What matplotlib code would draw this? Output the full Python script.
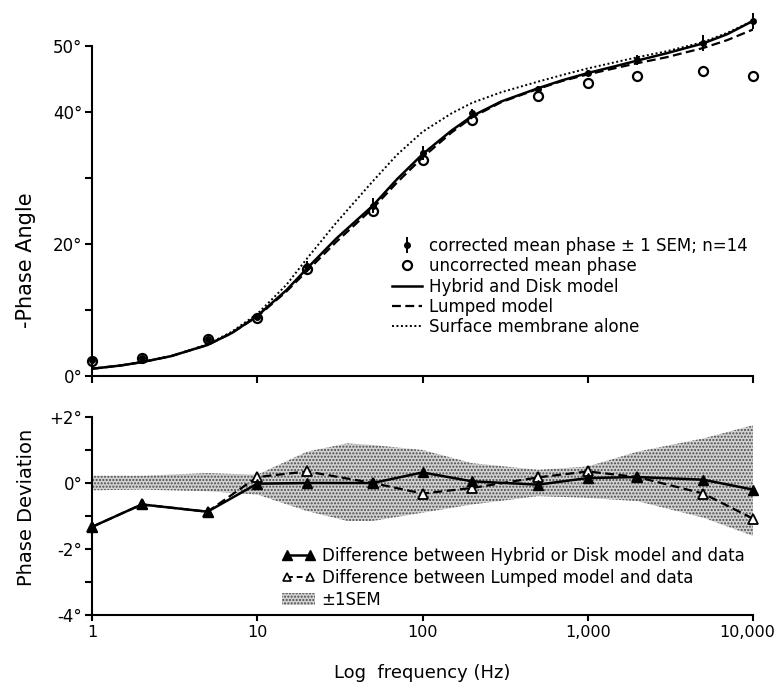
import matplotlib

matplotlib.use("Agg")
import matplotlib.pyplot as plt
from matplotlib.lines import Line2D
from matplotlib.patches import Patch
from matplotlib.ticker import FixedFormatter, FixedLocator, NullLocator
from matplotlib.transforms import ScaledTranslation

plt.rcParams["font.family"] = ["DejaVu Sans"]

# measured points (Hz, degrees)
freq = [1, 2, 5, 10, 20, 50, 100, 200, 500, 1000, 2000, 5000, 10000]
phase_corrected = [2.4, 2.8, 5.6, 9.0, 16.6, 25.8, 33.8, 39.8, 43.5, 45.9, 47.9, 50.4, 53.8]
phase_sem = [0.2, 0.2, 0.3, 0.3, 0.9, 1.1, 1.0, 0.6, 0.4, 0.5, 0.75, 1.2, 1.2]
phase_uncorrected = [2.3, 2.8, 5.6, 8.8, 16.2, 25.0, 32.7, 38.8, 42.4, 44.4, 45.5, 46.2, 45.5]

# model curves
model_freq = [1, 1.5, 2, 3, 5, 7, 10, 15, 20, 30, 50, 70, 100, 150, 200, 300,
              500, 700, 1000, 1500, 2000, 3000, 5000, 7000, 10000]
hybrid = [1.1, 1.6, 2.1, 3.0, 4.7, 6.5, 9.1, 13.0, 16.3, 20.8, 25.8, 29.8, 33.6, 37.2,
          39.4, 41.6, 43.6, 44.8, 45.9, 47.0, 47.8, 48.9, 50.4, 51.8, 53.8]
lumped = [1.1, 1.6, 2.1, 3.0, 4.7, 6.5, 9.0, 12.8, 15.9, 20.3, 25.4, 29.3, 33.1, 36.9,
          39.2, 41.5, 43.5, 44.7, 45.7, 46.7, 47.4, 48.3, 49.7, 50.9, 52.5]
surface = [1.1, 1.6, 2.1, 3.0, 4.8, 6.7, 9.4, 13.8, 17.8, 23.2, 29.5, 33.5, 37.0, 39.8,
           41.4, 43.0, 44.6, 45.6, 46.6, 47.6, 48.3, 49.2, 50.6, 52.0, 53.8]

# deviation panel
dev_hybrid = [-1.33, -0.65, -0.87, -0.02, 0.0, 0.0, 0.32, 0.05, -0.05, 0.15, 0.18, 0.1, -0.2]
dev_lumped = [-1.33, -0.65, -0.87, 0.18, 0.35, 0.0, -0.32, -0.15, 0.17, 0.35, 0.18, -0.32, -1.08]
band_freq = [1, 2, 5, 10, 20, 35, 50, 100, 200, 500, 1000, 2000, 5000, 10000]
band_hi = [0.22, 0.22, 0.3, 0.25, 0.95, 1.2, 1.15, 1.0, 0.6, 0.4, 0.5, 0.95, 1.35, 1.75]
band_lo = [-0.22, -0.2, -0.25, -0.35, -0.85, -1.15, -1.15, -0.9, -0.65, -0.4, -0.45, -0.55, -1.05, -1.6]

xticks = [1, 10, 100, 1000, 10000]
xticklabels = ["1", "10", "100", "1,000", "10,000"]

BAND_FACE = "#d2d2d2"
BAND_DOTS = "#4a4a4a"

fig = plt.figure(figsize=(7.77, 6.88), dpi=100)
ax = fig.add_axes([92 / 777, 1 - 376 / 688, 661 / 777, 363 / 688])
ax2 = fig.add_axes([92 / 777, 1 - 615 / 688, 661 / 777, 198 / 688])

# --- top panel: phase angle
surf_ln, = ax.plot(model_freq, surface, color="black", lw=1.4, ls=(0, (1, 1.3)))
lump_ln, = ax.plot(model_freq, lumped, color="black", lw=1.6, ls=(0, (4, 2)))
hyb_ln, = ax.plot(model_freq, hybrid, color="black", lw=1.8)
unc_ln, = ax.plot(freq, phase_uncorrected, "o", ms=6.5, mfc="none", mec="black", mew=1.6,
                  clip_on=False)
eb = ax.errorbar(freq, phase_corrected, yerr=phase_sem, fmt="o", ms=4, color="black",
                 elinewidth=1.4, capsize=0, clip_on=False)

ax.set_xscale("log")
ax.set_xlim(1, 10000)
ax.set_ylim(0, 55)
for s in ("top", "right"):
    ax.spines[s].set_visible(False)
ax.spines["left"].set_bounds(0, 50)
for s in ("left", "bottom"):
    ax.spines[s].set_linewidth(1.5)
ax.yaxis.set_major_locator(FixedLocator([0, 10, 20, 30, 40, 50]))
ax.yaxis.set_major_formatter(FixedFormatter(["0°", "", "20°", "", "40°", "50°"]))
ax.xaxis.set_major_locator(FixedLocator(xticks))
ax.xaxis.set_minor_locator(NullLocator())
ax.set_xticklabels([])
ax.tick_params(axis="both", direction="out", length=5, width=1.5, labelsize=12, pad=2)
ax.set_ylabel("-Phase Angle", fontsize=15)
ax.yaxis.set_label_coords(-0.085, 0.32)

ax.legend(handles=[eb, unc_ln, hyb_ln, lump_ln, surf_ln],
          labels=["corrected mean phase ± 1 SEM; n=14", "uncorrected mean phase",
                  "Hybrid and Disk model", "Lumped model", "Surface membrane alone"],
          loc="upper left", bbox_to_anchor=(0.454, 0.383),
          frameon=False, fontsize=12, handlelength=1.8, handletextpad=0.4,
          labelspacing=0.14, borderpad=0, borderaxespad=0, numpoints=1)

# --- bottom panel: deviation
ax2.fill_between(band_freq, band_lo, band_hi, facecolor=BAND_FACE, edgecolor=BAND_DOTS,
                 hatch=".....", linewidth=0)
ax2.plot(freq, dev_lumped, color="black", lw=1.6, ls=(0, (4, 2)), marker="^", ms=7,
         mfc="white", mec="black", mew=1.3, clip_on=False)
ax2.plot(freq, dev_hybrid, color="black", lw=1.8, marker="^", ms=7, mfc="black",
         mec="black", clip_on=False)

ax2.set_xscale("log")
ax2.set_xlim(1, 10000)
ax2.set_ylim(-4, 2)
for s in ("top", "right"):
    ax2.spines[s].set_visible(False)
for s in ("left", "bottom"):
    ax2.spines[s].set_linewidth(1.5)
ax2.yaxis.set_major_locator(FixedLocator([-4, -3, -2, -1, 0, 1, 2]))
ax2.yaxis.set_major_formatter(FixedFormatter(["-4°", "", "-2°", "", "0°", "", "+2°"]))
ax2.xaxis.set_major_locator(FixedLocator(xticks))
ax2.xaxis.set_major_formatter(FixedFormatter(xticklabels))
ax2.xaxis.set_minor_locator(NullLocator())
ax2.tick_params(axis="both", direction="out", length=5, width=1.5, labelsize=12, pad=2)
ax2.tick_params(axis="x", labelsize=11.5, length=4.5, pad=2.5)
ax2.set_ylabel("Phase Deviation", fontsize=14)
ax2.yaxis.set_label_coords(-0.085, 0.545)
ax2.set_xlabel("Log  frequency (Hz)", fontsize=13)
ax2.xaxis.set_label_coords(0.5, -0.245)

# nudge the last tick label so "10,000" stays inside the canvas
last = ax2.xaxis.get_major_ticks()[-1].label1
last.set_transform(last.get_transform() + ScaledTranslation(-6 / 100, 0, fig.dpi_scale_trans))

h_bot = [
    Line2D([], [], color="black", lw=1.8, marker="^", ms=7, mfc="black", mec="black"),
    Line2D([], [], color="black", lw=1.4, ls=(0, (3, 2)), marker="^", ms=6,
           mfc="white", mec="black", mew=1.2),
    Patch(facecolor=BAND_FACE, edgecolor=BAND_DOTS, hatch=".....", linewidth=0),
]
ax2.legend(handles=h_bot,
           labels=["Difference between Hybrid or Disk model and data",
                   "Difference between Lumped model and data", "±1SEM"],
           loc="upper left", bbox_to_anchor=(0.287, 0.343), frameon=False, fontsize=12,
           handlelength=2.0, handletextpad=0.4, labelspacing=0.24, borderpad=0,
           borderaxespad=0, numpoints=2)

fig.savefig("out.png", dpi=100)
